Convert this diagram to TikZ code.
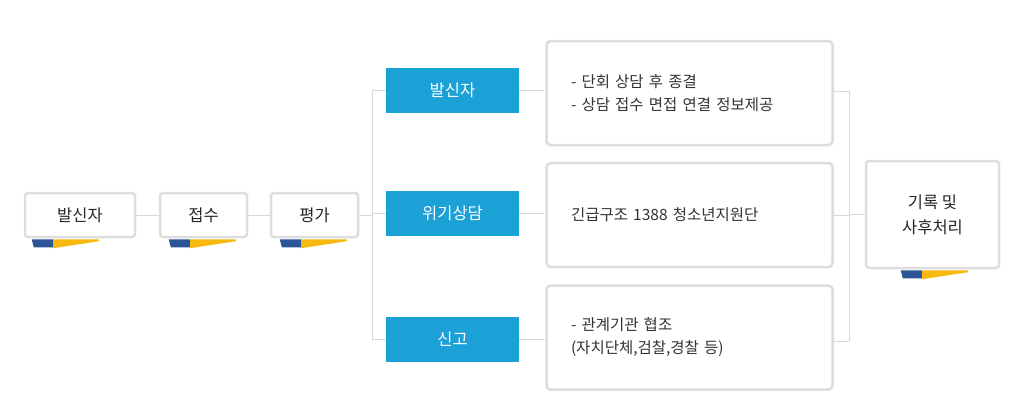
\documentclass[tikz,border=0pt]{standalone}
\usepackage{fontspec}
\setmainfont{Noto Sans CJK KR}
\usetikzlibrary{positioning}
\definecolor{boxline}{HTML}{DDDDDD}
\definecolor{wireline}{HTML}{D9D9D9}
\definecolor{skyblue}{HTML}{1BA1D5}
\definecolor{ribblue}{HTML}{2B5596}
\definecolor{ribyellow}{HTML}{F7B90F}
\tikzset{
  stage/.style={draw=boxline, line width=2.5pt, rounded corners=3pt, fill=white,
    minimum height=44pt, font=\fontsize{16.5}{20}\selectfont, text=black!85},
  kind/.style={fill=skyblue, minimum width=133pt, minimum height=45pt,
    font=\fontsize{16.5}{20}\selectfont, text=white},
  info/.style={draw=boxline, line width=2.5pt, rounded corners=4pt, fill=white,
    minimum width=286pt, minimum height=104pt, text width=237pt,
    font=\fontsize{15.5}{23}\selectfont, text=black!80},
  wire/.style={draw=wireline, line width=1pt}
}
% ribbon under a box, #2 = offset from its left side
\newcommand{\ribbon}[2]{%
  \fill[ribyellow] ([xshift=#2+21pt,yshift=-1pt]#1.south west) -- ++(46pt,0) -- ++(0,-2pt) -- ++(-46pt,-7pt) -- cycle;
  \fill[ribblue] ([xshift=#2,yshift=-1pt]#1.south west) -- ++(21pt,0) -- ++(0,-8pt) -- ++(-19pt,0) -- cycle;}
\begin{document}
\begin{tikzpicture}[x=1pt,y=-1pt]
  \useasboundingbox (0,0) rectangle (1026,410);

  % decision wires
  \coordinate (splitL1) at (372,91);
  \coordinate (splitL2) at (372,341);
  \coordinate (splitR1) at (849,91);
  \coordinate (splitR2) at (849,341);
  \draw[wire] (splitL1) -- (splitL2);
  \draw[wire] (splitR1) -- (splitR2);

  % main steps
  \node[stage, minimum width=110pt] (caller) at (80,215) {발신자};
  \node[stage, minimum width=87pt] (intake) at (203.5,215) {접수};
  \node[stage, minimum width=87pt] (assess) at (314.5,215) {평가};
  \node[stage, minimum width=133pt, minimum height=107pt, align=center,
    font=\fontsize{16.5}{25}\selectfont] (record) at (932.5,214.5) {기록 및\\사후처리};

  % kinds
  \node[kind] (kcall) at (452.5,90.5) {발신자};
  \node[kind] (kcrisis) at (452.5,213.5) {위기상담};
  \node[kind] (kreport) at (452.5,339.5) {신고};

  % details
  \node[info] (icall) at (689.5,93) {- 단회 상담 후 종결\\- 상담 접수 면접 연결 정보제공};
  \node[info] (icrisis) at (689.5,215) {긴급구조 1388 청소년지원단};
  \node[info] (ireport) at (689.5,337.5) {- 관계기관 협조\\(자치단체,검찰,경찰 등)};

  \ribbon{caller}{8pt}
  \ribbon{intake}{10pt}
  \ribbon{assess}{10pt}
  \ribbon{record}{36pt}

  \draw[wire] (caller) -- (intake);
  \draw[wire] (intake) -- (assess);
  \draw[wire] (assess) -- (assess -| splitL1);
  \draw[wire] (kcall -| splitL1) -- (kcall);
  \draw[wire] (kcrisis -| splitL1) -- (kcrisis);
  \draw[wire] (kreport -| splitL1) -- (kreport);
  \draw[wire] (kcall) -- (icall.west |- kcall);
  \draw[wire] (kcrisis) -- (icrisis.west |- kcrisis);
  \draw[wire] (kreport) -- (ireport.west |- kreport);
  \draw[wire] (icall.east |- splitR1) -- (splitR1);
  \draw[wire] (icrisis) -- (icrisis -| splitR1);
  \draw[wire] (ireport.east |- splitR2) -- (splitR2);
  \draw[wire] (record -| splitR1) -- (record);
\end{tikzpicture}
\end{document}
